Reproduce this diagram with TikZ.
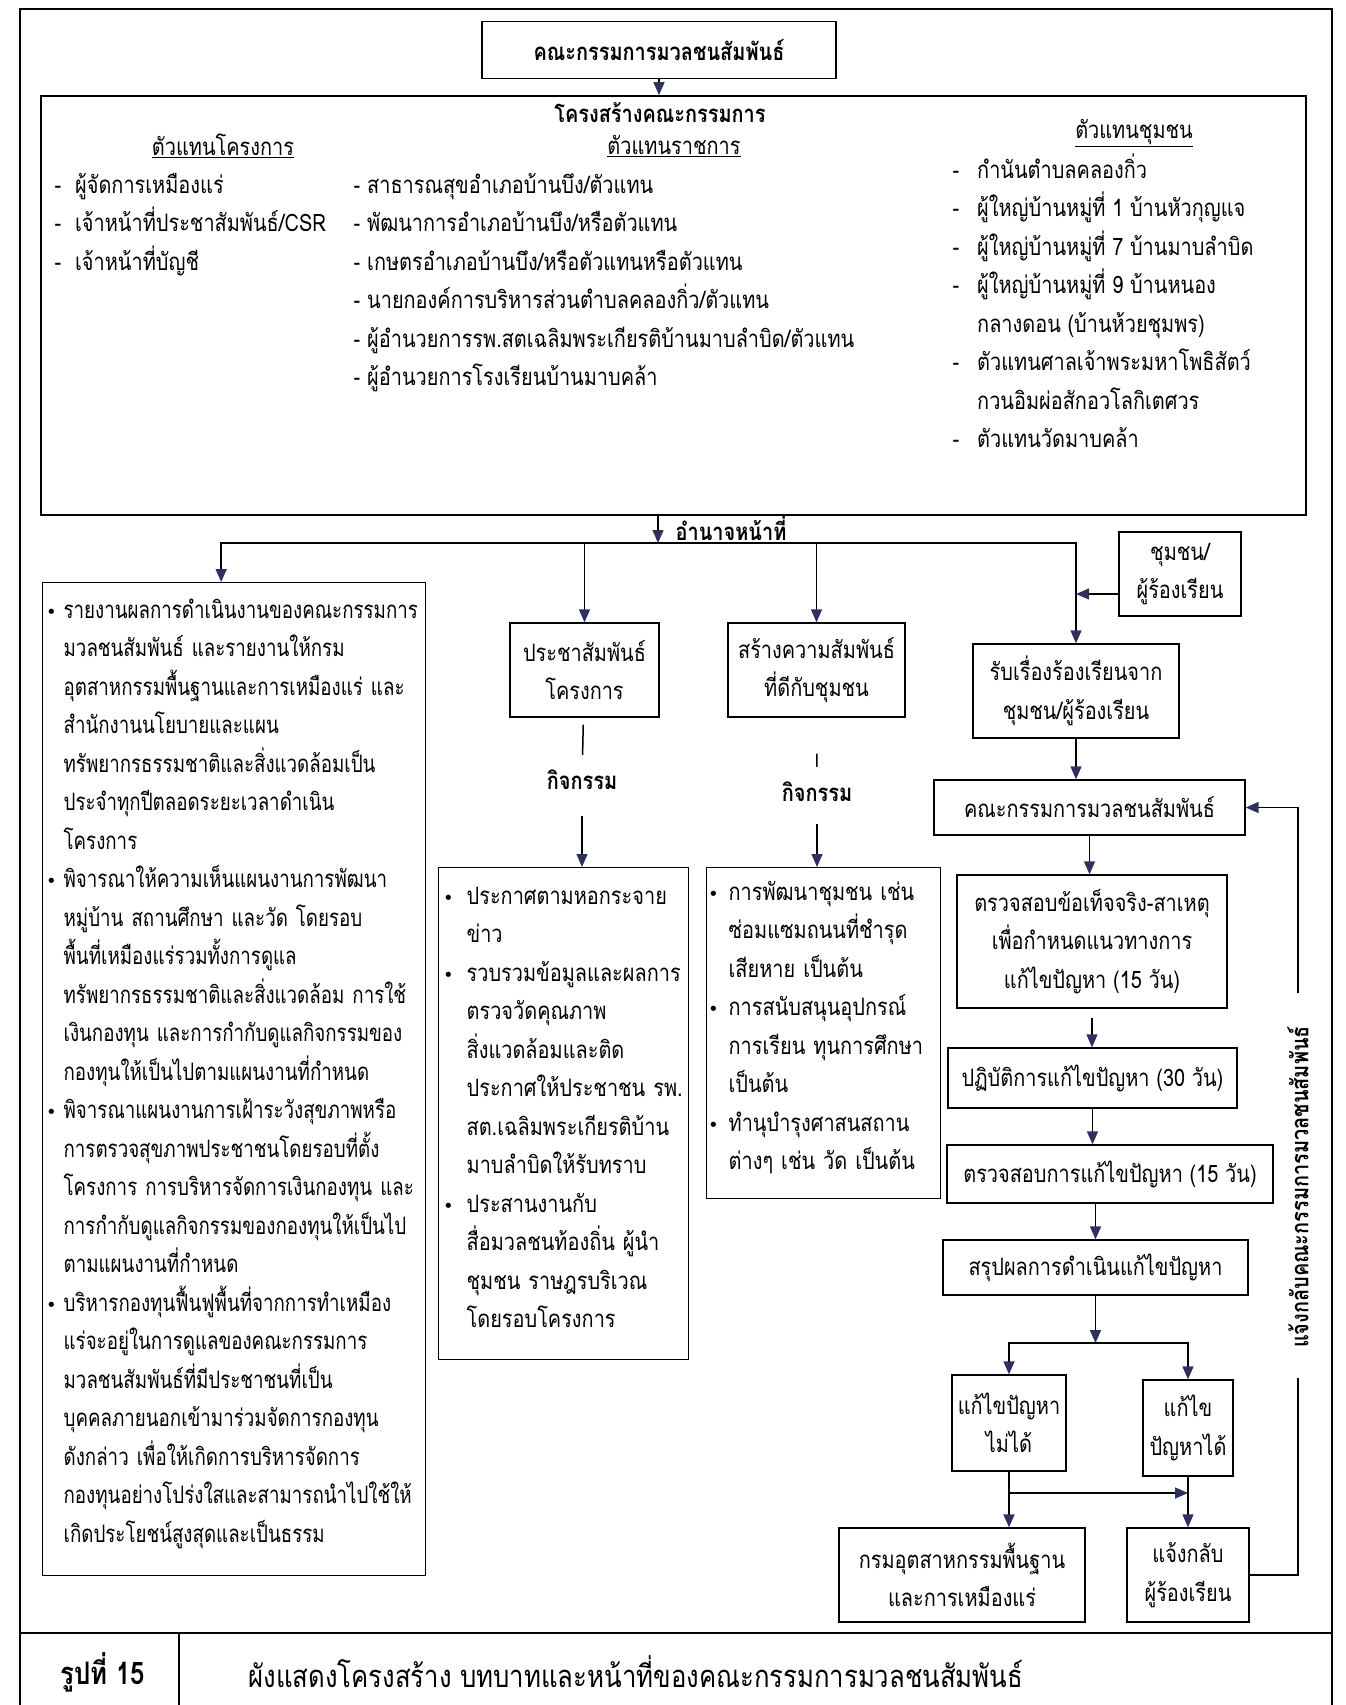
\documentclass[tikz,border=0pt]{standalone}
\usepackage{fontspec}
\setmainfont[Script=Thai, FakeStretch=0.83]{Loma}
\newfontfamily\thaicond[Script=Thai, FakeStretch=0.78]{Loma}
\newfontfamily\symf{DejaVu Sans}
\usepackage{tikz}
\usetikzlibrary{arrows.meta,positioning}
\definecolor{inknavy}{HTML}{2E3160}
\newcommand{\bul}[1]{\leavevmode\llap{{\symf\fontsize{18}{18}\selectfont •}\hspace{#1}}}
\newcommand{\dsh}[1]{\leavevmode\llap{-\hspace{#1}}}
\newcommand{\padbottom}[1]{\par\kern#1\hrule height 0pt}

\begin{document}
\begin{tikzpicture}[
    x=1pt, y=-1pt,
    font=\fontsize{24}{38.5}\selectfont,
    box/.style={draw, line width=1.3pt, align=center, inner sep=0pt},
    listbox/.style={draw, line width=1.3pt, align=left, anchor=north west, inner ysep=0pt},
    txt/.style={align=left, anchor=north west, inner sep=0pt, font=\fontsize{24}{38.5}\selectfont},
    bold/.style={inner sep=0pt, font=\fontsize{24}{38.5}\selectfont\bfseries},
    arrow/.style={line width=1.5pt, -{Triangle[length=13pt,width=11pt,color=inknavy]}},
    link/.style={line width=1.5pt}
  ]
    \useasboundingbox (0,0) rectangle (1345,1705);
    % page frame and caption row
    \draw[line width=2.5pt] (20,1705) -- (20,9) -- (1332,9) -- (1332,1705);
    \draw[line width=2.5pt] (20,1633) -- (1332,1633);
    \draw[line width=1.5pt] (179,1633) -- (179,1705);
    \node[font=\fontsize{31}{36}\selectfont\bfseries] (fignum) at (103,1672) {รูปที่ 15};
    \node[anchor=west, font=\fontsize{31}{36}\selectfont] (figcap) at (245,1672) {ผังแสดงโครงสร้าง บทบาทและหน้าที่ของคณะกรรมการมวลชนสัมพันธ์};

    % committee and its members
    \node[box, font=\fontsize{24}{38.5}\selectfont\bfseries, minimum width=354pt, minimum height=57pt] (top) at (659,50) {คณะกรรมการมวลชนสัมพันธ์};
    \node[box, line width=1.8pt, minimum width=1265pt, minimum height=419pt] (struct) at (673.5,305.5) {};
    \node[bold] (title) at (660,113) {โครงสร้างคณะกรรมการ};
    \node[inner sep=0pt] (hproj) at (223,146) {\underline{ตัวแทนโครงการ}};
    \node[inner sep=0pt] (hgov) at (674,146) {\underline{ตัวแทนราชการ}};
    \node[inner sep=0pt] (hcom) at (1134,133) {\underline{ตัวแทนชุมชน}};
    \node[txt] (projlist) at (75,166) {\strut\dsh{14pt}ผู้จัดการเหมืองแร่\\
      \dsh{14pt}เจ้าหน้าที่ประชาสัมพันธ์/CSR\\
      \dsh{14pt}เจ้าหน้าที่บัญชี};
    \node[txt] (govlist) at (367,166) {\strut\dsh{7pt}สาธารณสุขอำเภอบ้านบึง/ตัวแทน\\
      \dsh{7pt}พัฒนาการอำเภอบ้านบึง/หรือตัวแทน\\
      \dsh{7pt}เกษตรอำเภอบ้านบึง/หรือตัวแทนหรือตัวแทน\\
      \dsh{7pt}นายกองค์การบริหารส่วนตำบลคลองกิ่ว/ตัวแทน\\
      \dsh{7pt}ผู้อำนวยการรพ.สตเฉลิมพระเกียรติบ้านมาบลำบิด/ตัวแทน\\
      \dsh{7pt}ผู้อำนวยการโรงเรียนบ้านมาบคล้า};
    \node[txt] (comlist) at (977,151) {\strut\dsh{18pt}กำนันตำบลคลองกิ่ว\\
      \dsh{18pt}ผู้ใหญ่บ้านหมู่ที่ 1 บ้านหัวกุญแจ\\
      \dsh{18pt}ผู้ใหญ่บ้านหมู่ที่ 7 บ้านมาบลำบิด\\
      \dsh{18pt}ผู้ใหญ่บ้านหมู่ที่ 9 บ้านหนอง\\
      กลางดอน (บ้านห้วยชุมพร)\\
      \dsh{18pt}ตัวแทนศาลเจ้าพระมหาโพธิสัตว์\\
      กวนอิมผ่อสักอวโลกิเตศวร\\
      \dsh{18pt}ตัวแทนวัดมาบคล้า};

    % duties
    \node[bold] (duty) at (731,528) {อำนาจหน้าที่};
    \coordinate (bus) at (658,543);
    \node[listbox, font=\thaicond\fontsize{24}{38.5}\selectfont, text width=341pt, inner xsep=21pt, minimum height=993pt] (duties) at (42,582) {\bul{7pt}รายงานผลการดำเนินงานของคณะกรรมการ\\
      มวลชนสัมพันธ์~และรายงานให้กรม\\
      อุตสาหกรรมพื้นฐานและการเหมืองแร่~และ\\
      สำนักงานนโยบายและแผน\\
      ทรัพยากรธรรมชาติและสิ่งแวดล้อมเป็น\\
      ประจำทุกปีตลอดระยะเวลาดำเนิน\\
      โครงการ\\
      \bul{7pt}พิจารณาให้ความเห็นแผนงานการพัฒนา\\
      หมู่บ้าน~สถานศึกษา~และวัด~โดยรอบ\\
      พื้นที่เหมืองแร่รวมทั้งการดูแล\\
      ทรัพยากรธรรมชาติและสิ่งแวดล้อม~การใช้\\
      เงินกองทุน~และการกำกับดูแลกิจกรรมของ\\
      กองทุนให้เป็นไปตามแผนงานที่กำหนด\\
      \bul{7pt}พิจารณาแผนงานการเฝ้าระวังสุขภาพหรือ\\
      การตรวจสุขภาพประชาชนโดยรอบที่ตั้ง\\
      โครงการ~การบริหารจัดการเงินกองทุน~และ\\
      การกำกับดูแลกิจกรรมของกองทุนให้เป็นไป\\
      ตามแผนงานที่กำหนด\\
      \bul{7pt}บริหารกองทุนฟื้นฟูพื้นที่จากการทำเหมือง\\
      แร่จะอยู่ในการดูแลของคณะกรรมการ\\
      มวลชนสัมพันธ์ที่มีประชาชนที่เป็น\\
      บุคคลภายนอกเข้ามาร่วมจัดการกองทุน\\
      ดังกล่าว~เพื่อให้เกิดการบริหารจัดการ\\
      กองทุนอย่างโปร่งใสและสามารถนำไปใช้ให้\\
      เกิดประโยชน์สูงสุดและเป็นธรรม\padbottom{11pt}};
    \node[box, minimum width=149pt, minimum height=94pt] (pr) at (584.5,670) {ประชาสัมพันธ์\\โครงการ};
    \node[box, minimum width=177pt, minimum height=94pt] (rel) at (816.5,670) {สร้างความสัมพันธ์\\ที่ดีกับชุมชน};
    \node[bold] (kj1) at (582,780) {กิจกรรม};
    \node[bold] (kj2) at (817,792) {กิจกรรม};
    \node[listbox, text width=194pt, inner xsep=28pt, minimum height=492pt] (ac1) at (438,867) {\bul{13pt}ประกาศตามหอกระจาย\\
      ข่าว\\
      \bul{13pt}รวบรวมข้อมูลและผลการ\\
      ตรวจวัดคุณภาพ\\
      สิ่งแวดล้อมและติด\\
      ประกาศให้ประชาชน~รพ.\\
      สต.เฉลิมพระเกียรติบ้าน\\
      มาบลำบิดให้รับทราบ\\
      \bul{13pt}ประสานงานกับ\\
      สื่อมวลชนท้องถิ่น~ผู้นำ\\
      ชุมชน~ราษฎรบริเวณ\\
      โดยรอบโครงการ\padbottom{13pt}};
    \node[listbox, text width=190pt, inner xsep=22pt, minimum height=331pt] (ac2) at (706,867) {\bul{10pt}การพัฒนาชุมชน~เช่น\\
      ซ่อมแซมถนนที่ชำรุด\\
      เสียหาย~เป็นต้น\\
      \bul{10pt}การสนับสนุนอุปกรณ์\\
      การเรียน~ทุนการศึกษา\\
      เป็นต้น\\
      \bul{10pt}ทำนุบำรุงศาสนสถาน\\
      ต่างๆ~เช่น~วัด~เป็นต้น\padbottom{11pt}};

    % complaint handling
    \node[box, minimum width=122pt, minimum height=84pt] (comm) at (1180,574) {ชุมชน/\\ผู้ร้องเรียน};
    \node[box, minimum width=206pt, minimum height=94pt] (recv) at (1076,691) {รับเรื่องร้องเรียนจาก\\ชุมชน/ผู้ร้องเรียน};
    \node[box, minimum width=311pt, minimum height=55pt] (kc) at (1089.5,807.5) {คณะกรรมการมวลชนสัมพันธ์};
    \node[box, minimum width=270pt, minimum height=133pt] (chk) at (1092,941.5) {ตรวจสอบข้อเท็จจริง-สาเหตุ\\เพื่อกำหนดแนวทางการ\\แก้ไขปัญหา (15 วัน)};
    \node[box, minimum width=289pt, minimum height=60pt] (act) at (1092.5,1078) {ปฏิบัติการแก้ไขปัญหา (30 วัน)};
    \node[box, minimum width=326pt, minimum height=58pt] (ver) at (1110,1174) {ตรวจสอบการแก้ไขปัญหา (15 วัน)};
    \node[box, minimum width=305pt, minimum height=55pt] (sum) at (1095.5,1267.5) {สรุปผลการดำเนินแก้ไขปัญหา};
    \node[box, minimum width=114pt, minimum height=96pt] (no) at (1009,1423) {แก้ไขปัญหา\\ไม่ได้};
    \node[box, minimum width=90pt, minimum height=96pt] (yes) at (1188,1428) {แก้ไข\\ปัญหาได้};
    \node[box, minimum width=246pt, minimum height=94pt] (dept) at (962,1575) {กรมอุตสาหกรรมพื้นฐาน\\และการเหมืองแร่};
    \node[box, minimum width=122pt, minimum height=94pt] (ret) at (1188,1575) {แจ้งกลับ\\ผู้ร้องเรียน};
    \node[bold, rotate=90] (fb) at (1298,1187) {แจ้งกลับคณะกรรมการมวลชนสัมพันธ์};
    \coordinate (split) at (1100,1343);
    \coordinate (merge) at (1009,1493);

    \draw[arrow] (top) -- (top |- struct.north);
    \draw[arrow] (bus |- struct.south) -- (bus);
    \draw[arrow] (bus) -| ([xshift=-13pt]duties.north);
    \draw[arrow] (bus) -| (pr);
    \draw[arrow] (bus) -| (rel);
    \draw[arrow] (bus) -| (recv);
    \draw[arrow] ([yshift=-20pt]comm.west) -- ([yshift=-20pt]comm.west -| recv);
    \draw[link, shorten <=7pt, shorten >=15pt] (pr) -- (kj1);
    \draw[arrow, shorten <=26pt] (kj1) -- (kj1 |- ac1.north);
    \draw[link, shorten <=36pt, shorten >=15pt] (rel) -- (kj2);
    \draw[arrow, shorten <=22pt] (kj2) -- (kj2 |- ac2.north);
    \draw[arrow] (recv) -- (recv |- kc.north);
    \draw[arrow] (kc) -- (kc |- chk.north);
    \draw[arrow, shorten <=9pt] (chk) -- (chk |- act.north);
    \draw[arrow] (act) -- (act |- ver.north);
    \draw[arrow] (sum |- ver.south) -- (sum);
    \draw[arrow] (sum) -- (sum |- split);
    \draw[arrow] (sum |- split) -| (no);
    \draw[arrow] (sum |- split) -| (yes);
    \draw[arrow] (no) -- (no |- dept.north);
    \draw[arrow] (no |- merge) -- (yes |- merge);
    \draw[arrow] (yes) -- (ret);
    \draw[link, shorten >=30pt] (ret) -| (fb.west);
    \draw[arrow, shorten <=33pt] (fb.east) |- (kc);
  \end{tikzpicture}
\end{document}
